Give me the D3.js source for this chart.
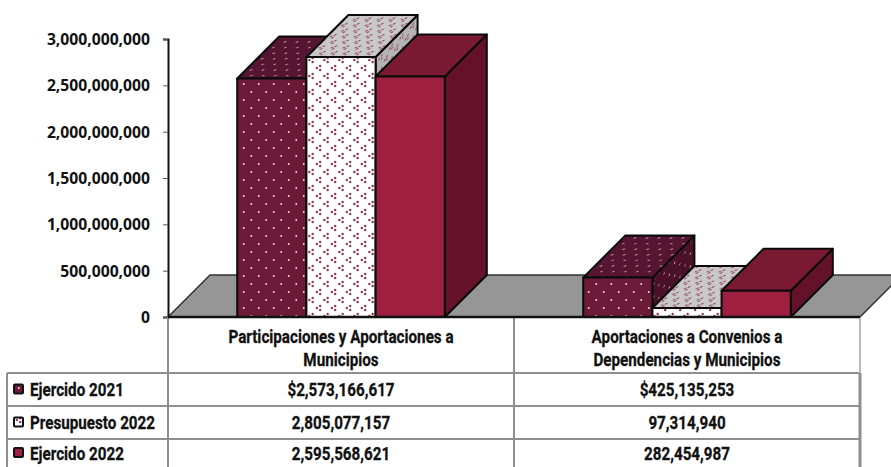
<!DOCTYPE html>
<html><head><meta charset="utf-8">
<script src="https://cdn.jsdelivr.net/npm/d3@7"></script>
<style>html,body{margin:0;padding:0;background:#fff}svg{display:block}
.c{font-family:Roboto,sans-serif;font-weight:700;fill:#111;stroke:#111;stroke-width:0.3px;font-size:19px}
.a{font-family:"Open Sans",sans-serif;font-weight:700;fill:#111;font-size:15.7px}</style>
</head><body><svg id="s" width="891" height="467"></svg>
<script>
const categories=[["Participaciones y Aportaciones a","Municipios"],["Aportaciones a Convenios a","Dependencias y Municipios"]];
const seriesNames=["Ejercido 2021","Presupuesto 2022","Ejercido 2022"];
const ejercido2021=[2573166617,425135253];
const presupuesto2022=[2805077157,97314940];
const ejercido2022=[2595568621,282454987];
const yTicks=[0,500000000,1000000000,1500000000,2000000000,2500000000,3000000000];
const series=[ejercido2021,presupuesto2022,ejercido2022];

const svg=d3.select("#s");
const y=d3.scaleLinear().domain([0,3000000000]).range([317,39]);
const x0=d3.scaleBand().domain([0,1]).range([168,860]);
const bw=x0.bandwidth();
const x1=d3.scaleBand().domain([0,1,2]).range([bw/5,bw*4/5]);
const depth=42;
const defs=svg.append("defs");
const styles=[
 {front:"#6b1a38",top:"#561530",side:"#4a1129",mark:"#f0d8dc",type:"dot"},
 {front:"#ffffff",top:"#c9c9c9",side:"#b4b4b4",mark:"#8e3a55",type:"tri"},
 {front:"#9e1f40",top:"#7a1932",side:"#63122a",mark:null}];
function pattern(id,bg,mark,type,tf){
  const p=defs.append("pattern").attr("id",id).attr("patternUnits","userSpaceOnUse").attr("width",15).attr("height",16);
  if(tf)p.attr("patternTransform",tf);
  p.append("rect").attr("width",15).attr("height",16).attr("fill",bg);
  [[3.75,4],[11.25,12]].forEach(([cx,cy])=>{
    if(type==="dot")p.append("circle").attr("cx",cx).attr("cy",cy).attr("r",1).attr("fill",mark);
    else [[-1.9,0],[1.4,-2],[1.4,2]].forEach(([a,b])=>p.append("circle").attr("cx",cx+a).attr("cy",cy+b).attr("r",1.2).attr("fill",mark));
  });
}
styles.forEach((st,i)=>{
  if(!st.mark)return;
  pattern("f"+i,st.front,st.mark,st.type,null);
  pattern("t"+i,st.top,st.mark,st.type,"matrix(0.8 0 0.7 -0.7 0 0)");
  pattern("s"+i,st.side,st.mark,st.type,"matrix(0.7 -0.7 0 0.8 0 0)");
});
const fill=(k,i)=>styles[i].mark?`url(#${k}${i})`:styles[i][k==="f"?"front":k==="t"?"top":"side"];
const line=d3.line();

// floor
const [left,right]=x0.range();
svg.append("path").attr("d",line([[left,y(0)],[left+depth,y(0)-depth],[right+depth,y(0)-depth],[right,y(0)]])+"Z")
  .attr("fill","#969696").attr("stroke","#333").attr("stroke-width",1.5);

// bars
categories.forEach((_,c)=>{
  series.forEach((vals,i)=>{
    const xa=x0(c)+x1(i), xb=xa+x1.bandwidth(), yt=y(vals[c]), yb=y(0);
    const g=svg.append("g").attr("stroke","#0a0a0a").attr("stroke-width",2).attr("stroke-linejoin","round");
    g.append("path").attr("d",line([[xb,yb],[xb+depth,yb-depth],[xb+depth,yt-depth],[xb,yt]])+"Z").attr("fill",fill("s",i));
    g.append("path").attr("d",line([[xa,yt],[xa+depth,yt-depth],[xb+depth,yt-depth],[xb,yt]])+"Z").attr("fill",fill("t",i));
    g.append("rect").attr("x",xa).attr("y",yt).attr("width",xb-xa).attr("height",yb-yt).attr("fill",fill("f",i));
  });
});
// axis
const ax=d3.axisLeft(y).tickValues(yTicks).tickFormat(d3.format(",")).tickSize(5).tickPadding(13);
const axg=svg.append("g").attr("transform","translate(168,0)").call(ax);
axg.select(".domain").attr("stroke","#111").attr("stroke-width",2);
axg.selectAll("line").attr("stroke","#555");
axg.selectAll("text").attr("class","a").attr("dy","0.36em");

// table
const tbl=svg.append("g").attr("stroke","#8f8f8f").attr("stroke-width",2);
const rowY=[373,406,439,467];
rowY.slice(0,3).forEach(v=>tbl.append("line").attr("x1",7).attr("x2",860).attr("y1",v).attr("y2",v));
tbl.append("line").attr("x1",7).attr("x2",7).attr("y1",373).attr("y2",467);
tbl.append("line").attr("x1",168).attr("x2",168).attr("y1",317).attr("y2",467);
tbl.append("line").attr("x1",514).attr("x2",514).attr("y1",317).attr("y2",467);
tbl.append("line").attr("x1",860).attr("x2",860).attr("y1",373).attr("y2",467).attr("stroke-width",3);
tbl.append("line").attr("x1",860).attr("x2",860).attr("y1",317).attr("y2",373).attr("stroke","#bbb");
svg.append("line").attr("x1",168).attr("x2",860).attr("y1",317).attr("y2",317).attr("stroke","#111").attr("stroke-width",2.5);

const squeeze=0.8;
function label(sel){const n=sel.node();sel.attr("textLength",n.getComputedTextLength()*squeeze).attr("lengthAdjust","spacingAndGlyphs");return sel;}
categories.forEach((lines,c)=>lines.forEach((t,k)=>label(svg.append("text").attr("class","c").attr("x",x0(c)+bw/2).attr("y",343+k*23).attr("text-anchor","middle").text(t))));
const fmt=d3.format(",");
series.forEach((vals,i)=>{
  const cy=(rowY[i]+rowY[i+1])/2;
  svg.append("rect").attr("x",14).attr("y",cy-5).attr("width",9).attr("height",9).attr("rx",1).attr("fill",fill("f",i)).attr("stroke","#111").attr("stroke-width",2);
  label(svg.append("text").attr("class","c").attr("x",30).attr("y",cy+6.5).text(seriesNames[i]));
  vals.forEach((v,c)=>label(svg.append("text").attr("class","c").attr("x",x0(c)+bw/2).attr("y",cy+6.5).attr("text-anchor","middle").text((i===0?"$":"")+fmt(v))));
});
</script></body></html>
